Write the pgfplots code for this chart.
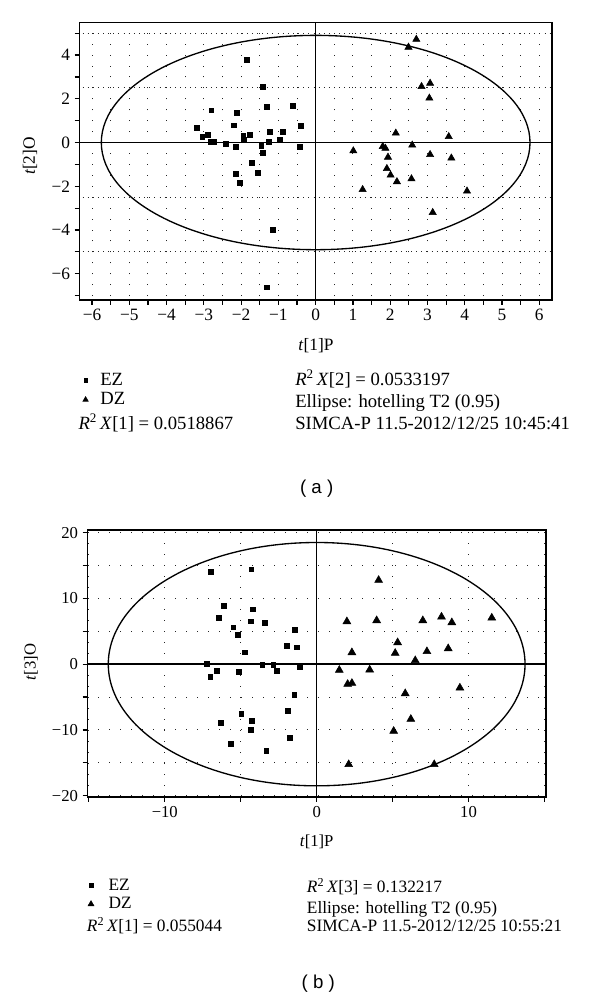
\documentclass[border=0pt]{standalone}
\usepackage{fontspec}
\setmainfont{Liberation Serif}
\newfontfamily\capfont{Liberation Sans}
\usepackage{pgfplots}
\pgfplotsset{compat=1.18}

\pgfplotsset{
  pcaplot/.style={
    scale only axis, anchor=south west,
    axis line style={line width=1pt},
    tick pos=left, tick align=outside,
    major tick length=3.5pt, minor tick length=3.5pt,
    tick style={line width=0.9pt, black},
    legend cell align=left,
    legend image code/.code={\draw[##1, mark options={scale=0.75}] plot coordinates {(0pt,0pt)};},
  },
  dotgrid/.style={black!85, line width=0.75pt, dash pattern=on 0.75pt off 7.45pt},
}

\begin{document}
\begin{tikzpicture}
\path[use as bounding box] (0,0) rectangle (450pt,747.75pt);

% ---------- (a) ----------
\begin{axis}[pcaplot,
  at={(59.5pt,522.75pt)}, width=354.5pt, height=208.3pt,
  xmin=-6.34, xmax=6.34, ymin=-7.2, ymax=5.5,
  xtick={-6,...,6}, xticklabels={−6,−5,−4,−3,−2,−1,0,1,2,3,4,5,6},
  minor xtick={-5.5,-4.5,...,5.5},
  ytick={-6,-4,...,4}, yticklabels={−6,−4,−2,0,2,4},
  minor ytick={-7,-5,...,5},
  xmajorgrids, xminorgrids,
  major grid style={dotgrid, dash phase=5.3pt},
  minor grid style={dotgrid, dash phase=5.3pt},
  extra y ticks={-5,-2.5,2.5,5}, extra y tick labels={},
  extra y tick style={grid=major, major tick length=0pt,
    major grid style={black!85, line width=0.65pt, dash pattern=on 0.65pt off 3.2pt}},
  tick label style={font=\fontsize{13}{15}\selectfont},
  legend style={at={(axis description cs:0.007,-0.262)}, anchor=north west,
    draw=none, fill=none, inner sep=0pt, row sep=4pt, column sep=9pt,
    font=\fontsize{14}{16}\selectfont, nodes={inner sep=0pt}},
]
\draw[line width=1.1pt] (axis cs:-6.34,0) -- (axis cs:6.34,0);
\draw[line width=1.1pt] (axis cs:0,-7.2) -- (axis cs:0,5.5);
\draw[line width=1pt] (axis cs:0,0) ellipse [x radius=5.75, y radius=4.9];
\addplot[only marks, mark=square*, mark size=1.8pt, black] coordinates {
(-1.84,3.79) (-1.42,2.56) (-1.31,1.64) (-0.62,1.69) (-2.80,1.48) (-2.12,1.36)
(-2.19,0.79) (-0.41,0.76) (-3.19,0.67) (-2.89,0.35) (-3.04,0.25) (-1.94,0.32)
(-1.77,0.35) (-1.23,0.49) (-0.88,0.50) (-1.92,0.12) (-2.83,0.03) (-2.74,0.03)
(-2.42,-0.06) (-2.14,-0.20) (-1.25,0.03) (-0.96,0.11) (-1.46,-0.14) (-0.42,-0.20)
(-1.41,-0.48) (-1.71,-0.93) (-1.55,-1.38) (-2.14,-1.43) (-2.03,-1.83) (-1.16,-4.00)
(-1.31,-6.62)
};
\addlegendentry{EZ}
\addplot[only marks, mark=triangle*, mark size=3.1pt, black] coordinates {
(2.70,4.72) (2.49,4.36) (2.84,2.56) (3.07,2.71) (3.05,2.03) (2.15,0.43)
(3.57,0.27) (1.01,-0.38) (1.80,-0.18) (1.87,-0.26) (2.59,-0.12) (3.07,-0.55)
(3.64,-0.71) (1.94,-0.67) (1.91,-1.19) (2.01,-1.49) (2.18,-1.79) (2.57,-1.66)
(1.26,-2.15) (4.06,-2.22) (3.14,-3.20)
};
\addlegendentry{DZ}
\end{axis}

\node[font=\fontsize{13}{15}\selectfont] at (237pt,488.25pt) {\textit{t}[1]P};
\node[font=\fontsize{13}{15}\selectfont, rotate=90] at (22.5pt,630.75pt) {\textit{t}[2]O};
\begin{scope}[every node/.style={anchor=base west, inner sep=0pt, font=\fontsize{14}{16}\selectfont}]
\node at (58.7pt,425.6pt) {\textit{R}\textsuperscript{2}\,\textit{X}[1] = 0.0518867};
\node at (221.25pt,458.6pt) {\textit{R}\textsuperscript{2}\,\textit{X}[2] = 0.0533197};
\node at (221.25pt,441.8pt) {Ellipse: hotelling T2 (0.95)};
\node at (221.25pt,425.6pt) {SIMCA-P 11.5-2012/12/25 10:45:41};
\end{scope}
\node[font=\capfont\fontsize{14}{16}\selectfont] at (237.5pt,381.5pt) {( a )};

% ---------- (b) ----------
\begin{axis}[pcaplot,
  at={(65.5pt,150pt)}, width=344pt, height=200.25pt,
  xmin=-15.1, xmax=15.1, ymin=-20.2, ymax=20.4,
  xtick={-15,-10,...,15}, xticklabels={,−10,,0,,10,},
  ytick={-20,-15,...,20}, yticklabels={−20,,−10,,0,,10,,20},
  grid=major,
  major grid style={black!85, line width=0.75pt, dash pattern=on 0.75pt off 7.5pt},
  tick label style={font=\fontsize{12.5}{14}\selectfont},
  legend style={at={(axis description cs:0.001,-0.305)}, anchor=north west,
    draw=none, fill=none, inner sep=0pt, row sep=4pt, column sep=11pt,
    font=\fontsize{13}{15}\selectfont, nodes={inner sep=0pt}},
]
\draw[line width=1.1pt] (axis cs:-15.1,0) -- (axis cs:15.1,0);
\draw[line width=1.1pt] (axis cs:0,-20.2) -- (axis cs:0,20.4);
\draw[line width=1pt] (axis cs:0,0) ellipse [x radius=13.72, y radius=18.5];
\addplot[only marks, mark=square*, mark size=1.8pt, black] coordinates {
(-6.97,14.03) (-4.30,14.44) (-6.14,8.92) (-6.47,7.04) (-4.19,8.36) (-4.32,6.53)
(-3.42,6.33) (-5.49,5.62) (-5.20,4.41) (-1.43,5.22) (-1.97,2.84) (-1.32,2.58)
(-4.74,1.82) (-7.24,0) (-3.58,-0.15) (-2.86,-0.05) (-1.10,-0.41) (-6.58,-1.01)
(-7.00,-1.87) (-5.11,-1.17) (-2.63,-1.01) (-1.47,-4.66) (-1.91,-7.09) (-4.96,-7.55)
(-4.26,-8.56) (-6.30,-8.86) (-4.34,-9.98) (-1.78,-11.25) (-5.64,-12.06) (-3.32,-13.13)
};
\addlegendentry{EZ}
\addplot[only marks, mark=triangle*, mark size=3.4pt, black] coordinates {
(4.08,12.77) (1.99,6.48) (3.95,6.64) (6.99,6.64) (8.22,7.19) (8.90,6.33)
(11.53,7.04) (5.33,3.29) (2.32,1.77) (5.17,1.67) (7.26,1.93) (8.66,2.38)
(6.49,0.56) (1.49,-0.91) (3.49,-0.86) (2.04,-3.04) (2.32,-2.89) (5.83,-4.46)
(9.43,-3.60) (6.20,-8.36) (5.07,-10.18) (2.11,-15.25) (7.74,-15.25)
};
\addlegendentry{DZ}
\end{axis}

\node[font=\fontsize{12.5}{14}\selectfont] at (237.5pt,116.5pt) {\textit{t}[1]P};
\node[font=\fontsize{12.5}{14}\selectfont, rotate=90] at (23.25pt,251.25pt) {\textit{t}[3]O};
\begin{scope}[every node/.style={anchor=base west, inner sep=0pt, font=\fontsize{13}{15}\selectfont}]
\node at (65pt,49pt) {\textit{R}\textsuperscript{2}\,\textit{X}[1] = 0.055044};
\node at (230pt,78.4pt) {\textit{R}\textsuperscript{2}\,\textit{X}[3] = 0.132217};
\node at (230pt,62.5pt) {Ellipse: hotelling T2 (0.95)};
\node at (230pt,49pt) {SIMCA-P 11.5-2012/12/25 10:55:21};
\end{scope}
\node[font=\capfont\fontsize{14}{16}\selectfont] at (238.7pt,10.3pt) {( b )};
\end{tikzpicture}
\end{document}
